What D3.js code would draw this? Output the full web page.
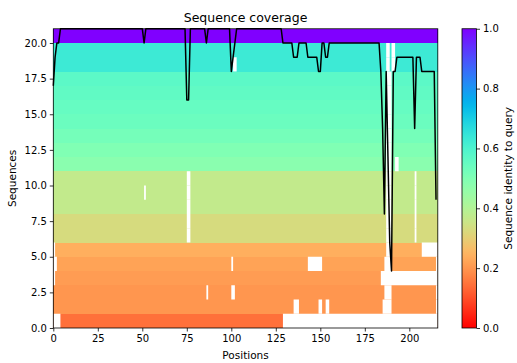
<!DOCTYPE html>
<html><head><meta charset="utf-8">
<script src="https://cdn.jsdelivr.net/npm/d3@7/dist/d3.min.js"></script>
<style>body{margin:0;background:#fff;} text{font-family:"DejaVu Sans",sans-serif;fill:#000;}</style>
</head><body><svg id="c" width="517" height="363"></svg>
<script>
// ---------------- data ----------------
const numPositions = 216;
const numSequences = 21;
// identity to query of each MSA row, bottom row (0) to top row (20)
const rowIdentity = [0.145, 0.20, 0.20, 0.21, 0.22, 0.24, 0.33, 0.33, 0.37, 0.37, 0.37,
                     0.48, 0.50, 0.52, 0.54, 0.55, 0.56, 0.57, 0.63, 0.63, 1.0];
// gaps: [row, startPosition, endPosition)
const gaps = [
  [0, 0, 4], [0, 129, 216],
  [1, 135, 138], [1, 149, 151], [1, 153, 155], [1, 185, 190], [1, 215, 216],
  [2, 86, 87], [2, 100, 102], [2, 186, 190], [2, 215, 216],
  [3, 0, 1], [3, 184, 216],
  [4, 0, 2], [4, 100, 101], [4, 143, 151], [4, 186, 190], [4, 215, 216],
  [5, 0, 1], [5, 187, 190], [5, 207, 216],
  [6, 75, 77], [6, 187, 190], [6, 203, 204],
  [7, 75, 77], [7, 187, 190], [7, 203, 204],
  [8, 75, 77], [8, 187, 190], [8, 203, 204],
  [9, 51, 52], [9, 75, 77], [9, 187, 190], [9, 203, 204],
  [10, 75, 77], [10, 187, 190], [10, 203, 204],
  [11, 187, 190], [11, 192, 194],
  [12, 187, 190], [13, 187, 190], [14, 187, 190], [15, 187, 190], [16, 187, 190], [17, 187, 190],
  [18, 101, 103], [18, 187, 189], [18, 190, 192],
  [19, 187, 189], [19, 190, 192]
];
// coverage line vertices (position, number of non-gap sequences)
const coverageX = [0, 1, 2, 3, 4, 50, 51, 52, 74, 75, 76, 77, 85, 86, 87, 99, 100, 101, 102, 103,
                   128, 129, 134, 135, 137, 138, 142, 143, 148, 149, 150, 151, 152, 153, 154, 155,
                   183, 184, 185, 186, 187, 188, 189, 190, 191, 192, 193, 202, 203, 204, 206, 207, 214, 215];
const coverageY = [17, 19, 20, 20, 21, 21, 20, 21, 21, 16, 16, 21, 21, 20, 21, 21, 18, 19, 20, 21,
                   21, 20, 20, 19, 19, 20, 20, 19, 19, 18, 18, 20, 20, 19, 19, 20,
                   20, 18, 14, 8, 18, 12, 6, 4, 18, 18, 19, 19, 14, 19, 19, 18, 18, 9];
const xTicks = [0, 25, 50, 75, 100, 125, 150, 175, 200];
const yTicks = [0, 2.5, 5, 7.5, 10, 12.5, 15, 17.5, 20];
const cbTicks = [0, 0.2, 0.4, 0.6, 0.8, 1.0];

// ---------------- colormap (matplotlib rainbow_r) ----------------
function clamp(v) { return Math.max(0, Math.min(1, v)); }
function rainbowR(v) {
  const t = 1 - v;
  const r = clamp(Math.abs(2 * t - 0.5)), g = clamp(Math.sin(t * Math.PI)), b = clamp(Math.cos(t * Math.PI / 2));
  return d3.rgb(r * 255, g * 255, b * 255).formatHex();
}
const color = d3.scaleSequential(rainbowR).domain([0, 1]);

// ---------------- layout ----------------
const svg = d3.select("#c");
const L = 53.3, R = 437.8, T = 28.75, B = 328;
const x = d3.scaleLinear().domain([0, numPositions]).range([L, R]);
const y = d3.scaleLinear().domain([0, numSequences]).range([B, T]);

const rows = d3.range(numSequences);
svg.append("g").selectAll("rect").data(rows).join("rect")
  .attr("x", x(0)).attr("width", x(numPositions) - x(0))
  .attr("y", d => y(d + 1)).attr("height", d => y(d) - y(d + 1))
  .attr("fill", d => color(rowIdentity[d]))
  .attr("shape-rendering", "crispEdges");

svg.append("g").selectAll("rect").data(gaps).join("rect")
  .attr("x", d => x(d[1])).attr("width", d => x(d[2]) - x(d[1]))
  .attr("y", d => y(d[0] + 1)).attr("height", d => y(d[0]) - y(d[0] + 1))
  .attr("fill", "#fff");

const line = d3.line().x((d, i) => x(coverageX[i])).y(d => y(d));
svg.append("path").datum(coverageY).attr("d", line)
  .attr("fill", "none").attr("stroke", "#000").attr("stroke-width", 1.5).attr("stroke-linejoin", "round");

// axes
const fs = 10;
const xAxis = svg.append("g").attr("transform", `translate(0,${B})`)
  .call(d3.axisBottom(x).tickValues(xTicks).tickSize(3.5).tickPadding(3).tickSizeOuter(0).tickFormat(d3.format("d")));
const yAxis = svg.append("g").attr("transform", `translate(${L},0)`)
  .call(d3.axisLeft(y).tickValues(yTicks).tickSize(3.5).tickPadding(3).tickSizeOuter(0).tickFormat(d3.format(".1f")));
[xAxis, yAxis].forEach(a => {
  a.select(".domain").remove();
  a.selectAll("line").attr("stroke", "#000").attr("stroke-width", 0.8);
  a.selectAll("text").attr("font-size", fs).attr("font-family", "DejaVu Sans").attr("fill", "#000");
});
svg.append("rect").attr("x", L).attr("y", T).attr("width", R - L).attr("height", B - T)
  .attr("fill", "none").attr("stroke", "#000").attr("stroke-width", 0.8);

svg.append("text").attr("x", (L + R) / 2).attr("y", 22).attr("text-anchor", "middle")
  .attr("font-size", 12.5).text("Sequence coverage");
svg.append("text").attr("x", (L + R) / 2).attr("y", 359).attr("text-anchor", "middle")
  .attr("font-size", 10.5).text("Positions");
svg.append("text").attr("transform", `translate(16,${(T + B) / 2}) rotate(-90)`).attr("text-anchor", "middle")
  .attr("font-size", 10.5).text("Sequences");

// colorbar
const cbL = 462, cbR = 476.5;
const cy = d3.scaleLinear().domain([0, 1]).range([B, T]);
const defs = svg.append("defs");
const grad = defs.append("linearGradient").attr("id", "cbg").attr("x1", 0).attr("y1", 1).attr("x2", 0).attr("y2", 0);
grad.selectAll("stop").data(d3.range(0, 1.0001, 0.02)).join("stop")
  .attr("offset", d => d).attr("stop-color", d => color(d));
svg.append("rect").attr("x", cbL).attr("y", T).attr("width", cbR - cbL).attr("height", B - T)
  .attr("fill", "url(#cbg)").attr("stroke", "#000").attr("stroke-width", 0.8);
const cAxis = svg.append("g").attr("transform", `translate(${cbR},0)`)
  .call(d3.axisRight(cy).tickValues(cbTicks).tickSize(3.5).tickPadding(3).tickSizeOuter(0).tickFormat(d3.format(".1f")));
cAxis.select(".domain").remove();
cAxis.selectAll("line").attr("stroke", "#000").attr("stroke-width", 0.8);
cAxis.selectAll("text").attr("font-size", fs).attr("font-family", "DejaVu Sans").attr("fill", "#000");
svg.append("text").attr("transform", `translate(512,${(T + B) / 2}) rotate(-90)`).attr("text-anchor", "middle")
  .attr("font-size", 10.5).text("Sequence identity to query");
</script></body></html>
